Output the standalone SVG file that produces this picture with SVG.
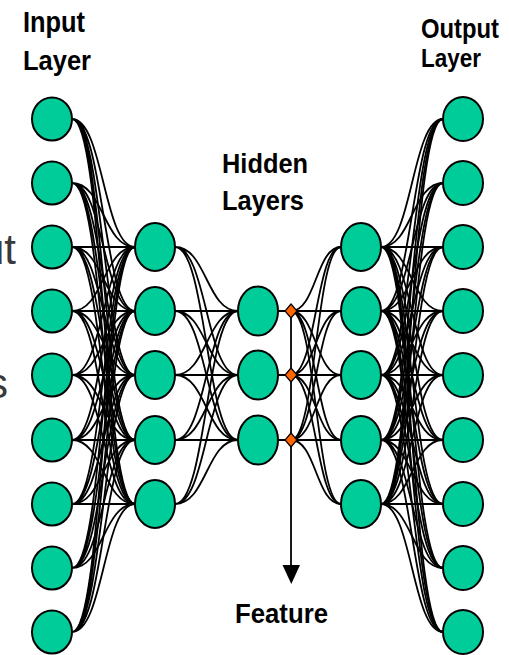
<svg xmlns="http://www.w3.org/2000/svg" width="509" height="655" viewBox="0 0 509 655">
<style>
.lbl{font-family:"Liberation Sans",Arial,sans-serif;font-weight:bold;fill:#000}
.grey{font-family:"Liberation Sans",Arial,sans-serif;fill:#3a3a3a;font-size:42px}
.node{fill:#00CC99;stroke:#000;stroke-width:2}
.conn path{fill:none;stroke:#000;stroke-width:1.8}
.dia{fill:#FF6600;stroke:#000;stroke-width:1.2}
</style>
<rect width="509" height="655" fill="#fff"/>
<text class="grey" x="16" y="264" text-anchor="end">ut</text>
<text class="grey" x="8" y="398" text-anchor="end">s</text>
<g id="connectors" class="conn">
<path d="M72 119C103.5 119 103.5 247 135 247M72 119C103.5 119 103.5 311 135 311M72 119C103.5 119 103.5 375 135 375M72 119C103.5 119 103.5 440 135 440M72 119C103.5 119 103.5 504 135 504"/>
<path d="M72 183C103.5 183 103.5 247 135 247M72 183C103.5 183 103.5 311 135 311M72 183C103.5 183 103.5 375 135 375M72 183C103.5 183 103.5 440 135 440M72 183C103.5 183 103.5 504 135 504"/>
<path d="M72 247C103.5 247 103.5 247 135 247M72 247C103.5 247 103.5 311 135 311M72 247C103.5 247 103.5 375 135 375M72 247C103.5 247 103.5 440 135 440M72 247C103.5 247 103.5 504 135 504"/>
<path d="M72 311C103.5 311 103.5 247 135 247M72 311C103.5 311 103.5 311 135 311M72 311C103.5 311 103.5 375 135 375M72 311C103.5 311 103.5 440 135 440M72 311C103.5 311 103.5 504 135 504"/>
<path d="M72 375C103.5 375 103.5 247 135 247M72 375C103.5 375 103.5 311 135 311M72 375C103.5 375 103.5 375 135 375M72 375C103.5 375 103.5 440 135 440M72 375C103.5 375 103.5 504 135 504"/>
<path d="M72 440C103.5 440 103.5 247 135 247M72 440C103.5 440 103.5 311 135 311M72 440C103.5 440 103.5 375 135 375M72 440C103.5 440 103.5 440 135 440M72 440C103.5 440 103.5 504 135 504"/>
<path d="M72 504C103.5 504 103.5 247 135 247M72 504C103.5 504 103.5 311 135 311M72 504C103.5 504 103.5 375 135 375M72 504C103.5 504 103.5 440 135 440M72 504C103.5 504 103.5 504 135 504"/>
<path d="M72 568C103.5 568 103.5 247 135 247M72 568C103.5 568 103.5 311 135 311M72 568C103.5 568 103.5 375 135 375M72 568C103.5 568 103.5 440 135 440M72 568C103.5 568 103.5 504 135 504"/>
<path d="M72 632C103.5 632 103.5 247 135 247M72 632C103.5 632 103.5 311 135 311M72 632C103.5 632 103.5 375 135 375M72 632C103.5 632 103.5 440 135 440M72 632C103.5 632 103.5 504 135 504"/>
<path d="M175 247C206.5 247 206.5 311 238 311M175 247C206.5 247 206.5 375 238 375M175 247C206.5 247 206.5 440 238 440"/>
<path d="M175 311C206.5 311 206.5 311 238 311M175 311C206.5 311 206.5 375 238 375M175 311C206.5 311 206.5 440 238 440"/>
<path d="M175 375C206.5 375 206.5 311 238 311M175 375C206.5 375 206.5 375 238 375M175 375C206.5 375 206.5 440 238 440"/>
<path d="M175 440C206.5 440 206.5 311 238 311M175 440C206.5 440 206.5 375 238 375M175 440C206.5 440 206.5 440 238 440"/>
<path d="M175 504C206.5 504 206.5 311 238 311M175 504C206.5 504 206.5 375 238 375M175 504C206.5 504 206.5 440 238 440"/>
<path d="M278 311H291C316 311 316 247 341 247M291 311C316 311 316 311 341 311M291 311C316 311 316 375 341 375M291 311C316 311 316 440 341 440M291 311C316 311 316 504 341 504"/>
<path d="M278 375H291C316 375 316 247 341 247M291 375C316 375 316 311 341 311M291 375C316 375 316 375 341 375M291 375C316 375 316 440 341 440M291 375C316 375 316 504 341 504"/>
<path d="M278 440H291C316 440 316 247 341 247M291 440C316 440 316 311 341 311M291 440C316 440 316 375 341 375M291 440C316 440 316 440 341 440M291 440C316 440 316 504 341 504"/>
<path d="M381 247C412 247 412 119 443 119M381 247C412 247 412 183 443 183M381 247C412 247 412 247 443 247M381 247C412 247 412 311 443 311M381 247C412 247 412 375 443 375M381 247C412 247 412 440 443 440M381 247C412 247 412 504 443 504M381 247C412 247 412 568 443 568M381 247C412 247 412 632 443 632"/>
<path d="M381 311C412 311 412 119 443 119M381 311C412 311 412 183 443 183M381 311C412 311 412 247 443 247M381 311C412 311 412 311 443 311M381 311C412 311 412 375 443 375M381 311C412 311 412 440 443 440M381 311C412 311 412 504 443 504M381 311C412 311 412 568 443 568M381 311C412 311 412 632 443 632"/>
<path d="M381 375C412 375 412 119 443 119M381 375C412 375 412 183 443 183M381 375C412 375 412 247 443 247M381 375C412 375 412 311 443 311M381 375C412 375 412 375 443 375M381 375C412 375 412 440 443 440M381 375C412 375 412 504 443 504M381 375C412 375 412 568 443 568M381 375C412 375 412 632 443 632"/>
<path d="M381 440C412 440 412 119 443 119M381 440C412 440 412 183 443 183M381 440C412 440 412 247 443 247M381 440C412 440 412 311 443 311M381 440C412 440 412 375 443 375M381 440C412 440 412 440 443 440M381 440C412 440 412 504 443 504M381 440C412 440 412 568 443 568M381 440C412 440 412 632 443 632"/>
<path d="M381 504C412 504 412 119 443 119M381 504C412 504 412 183 443 183M381 504C412 504 412 247 443 247M381 504C412 504 412 311 443 311M381 504C412 504 412 375 443 375M381 504C412 504 412 440 443 440M381 504C412 504 412 504 443 504M381 504C412 504 412 568 443 568M381 504C412 504 412 632 443 632"/>
<path d="M291 311V566" stroke-width="1.8"/>
<polygon points="282.5,565 300,565 291.3,584" fill="#000" stroke="none"/>
</g>
<g id="input-layer">
<ellipse class="node" cx="52" cy="119" rx="20" ry="21.5"/>
<ellipse class="node" cx="52" cy="183" rx="20" ry="21.5"/>
<ellipse class="node" cx="52" cy="247" rx="20" ry="21.5"/>
<ellipse class="node" cx="52" cy="311" rx="20" ry="21.5"/>
<ellipse class="node" cx="52" cy="375" rx="20" ry="21.5"/>
<ellipse class="node" cx="52" cy="440" rx="20" ry="21.5"/>
<ellipse class="node" cx="52" cy="504" rx="20" ry="21.5"/>
<ellipse class="node" cx="52" cy="568" rx="20" ry="21.5"/>
<ellipse class="node" cx="52" cy="632" rx="20" ry="21.5"/>
</g>
<g id="hidden-layer-1">
<ellipse class="node" cx="155" cy="247" rx="20" ry="24"/>
<ellipse class="node" cx="155" cy="311" rx="20" ry="24"/>
<ellipse class="node" cx="155" cy="375" rx="20" ry="24"/>
<ellipse class="node" cx="155" cy="440" rx="20" ry="24"/>
<ellipse class="node" cx="155" cy="504" rx="20" ry="24"/>
</g>
<g id="hidden-layer-2">
<ellipse class="node" cx="258" cy="311" rx="20" ry="24.5"/>
<ellipse class="node" cx="258" cy="375" rx="20" ry="24.5"/>
<ellipse class="node" cx="258" cy="440" rx="20" ry="24.5"/>
</g>
<g id="feature-taps">
<polygon class="dia" points="291,304 297,311 291,318 285,311"/>
<polygon class="dia" points="291,368 297,375 291,382 285,375"/>
<polygon class="dia" points="291,433 297,440 291,447 285,440"/>
</g>
<g id="hidden-layer-3">
<ellipse class="node" cx="361" cy="247" rx="20" ry="24"/>
<ellipse class="node" cx="361" cy="311" rx="20" ry="24"/>
<ellipse class="node" cx="361" cy="375" rx="20" ry="24"/>
<ellipse class="node" cx="361" cy="440" rx="20" ry="24"/>
<ellipse class="node" cx="361" cy="504" rx="20" ry="24"/>
</g>
<g id="output-layer">
<ellipse class="node" cx="463" cy="119" rx="20" ry="22"/>
<ellipse class="node" cx="463" cy="183" rx="20" ry="22"/>
<ellipse class="node" cx="463" cy="247" rx="20" ry="22"/>
<ellipse class="node" cx="463" cy="311" rx="20" ry="22"/>
<ellipse class="node" cx="463" cy="375" rx="20" ry="22"/>
<ellipse class="node" cx="463" cy="440" rx="20" ry="22"/>
<ellipse class="node" cx="463" cy="504" rx="20" ry="22"/>
<ellipse class="node" cx="463" cy="568" rx="20" ry="22"/>
<ellipse class="node" cx="463" cy="632" rx="20" ry="22"/>
</g>
<g id="labels">
<text class="lbl" x="23" y="32" font-size="29" textLength="62" lengthAdjust="spacingAndGlyphs">Input</text>
<text class="lbl" x="23" y="70" font-size="28" textLength="68" lengthAdjust="spacingAndGlyphs">Layer</text>
<text class="lbl" x="222" y="173" font-size="28" textLength="86" lengthAdjust="spacingAndGlyphs">Hidden</text>
<text class="lbl" x="222" y="210" font-size="28" textLength="82" lengthAdjust="spacingAndGlyphs">Layers</text>
<text class="lbl" x="421" y="38" font-size="28" textLength="78" lengthAdjust="spacingAndGlyphs">Output</text>
<text class="lbl" x="421" y="67" font-size="25" textLength="60" lengthAdjust="spacingAndGlyphs">Layer</text>
<text class="lbl" x="235" y="623" font-size="28" textLength="93" lengthAdjust="spacingAndGlyphs">Feature</text>
</g>
</svg>
